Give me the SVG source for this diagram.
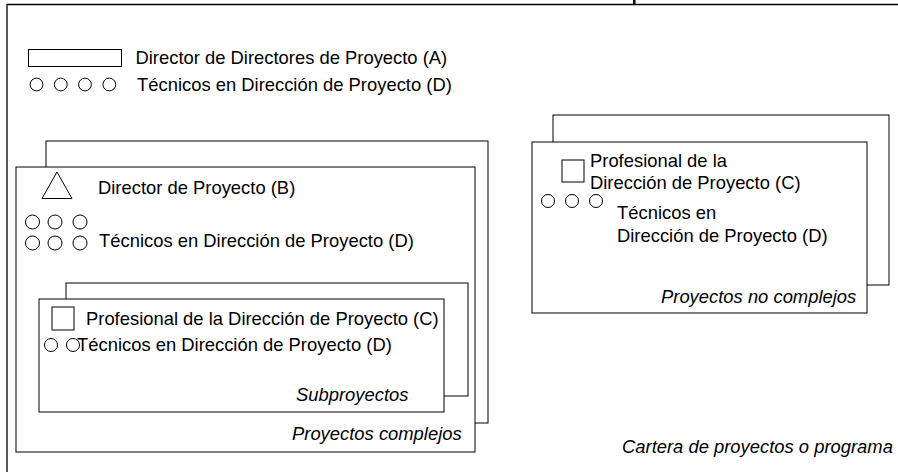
<svg xmlns="http://www.w3.org/2000/svg" width="898" height="472" viewBox="0 0 898 472">
<style>
  .box { fill: #fff; stroke: #000; stroke-width: 1; }
  .sym { fill: #fff; stroke: #000; stroke-width: 1; }
  .frame { fill: none; stroke: #000; stroke-width: 1.3; }
  text { font-family: "Liberation Sans", Arial, sans-serif; font-size: 18.4px; fill: #000; }
  .it { font-style: italic; }
</style>
<rect x="0" y="0" width="898" height="472" fill="#fff"/>
<g id="cartera">
  <polyline class="frame" points="7,472 7,4.5 898,4.5"/>
  <rect x="633" y="0" width="2.5" height="5" fill="#000"/>
  <text class="it" x="622" y="453">Cartera de proyectos o programa</text>
</g>
<g id="leyenda">
  <rect class="sym" x="28.5" y="49.5" width="93" height="17"/>
  <text x="135.5" y="64">Director de Directores de Proyecto (A)</text>
  <circle class="sym" cx="36.5" cy="84.5" r="6.4"/>
  <circle class="sym" cx="60.8" cy="84.5" r="6.4"/>
  <circle class="sym" cx="85" cy="84.5" r="6.4"/>
  <circle class="sym" cx="109.3" cy="84.5" r="6.4"/>
  <text x="137" y="91">Técnicos en Dirección de Proyecto (D)</text>
</g>
<g id="proyectos-complejos">
  <rect class="box" x="46" y="141" width="442" height="282"/>
  <rect class="box" x="16" y="167" width="459" height="285"/>
  <polygon class="sym" points="57,172 42,198.5 72,198.5"/>
  <text x="98" y="194">Director de Proyecto (B)</text>
  <circle class="sym" cx="32.5" cy="222" r="7"/>
  <circle class="sym" cx="55" cy="222" r="7"/>
  <circle class="sym" cx="80" cy="222" r="7"/>
  <circle class="sym" cx="32.5" cy="243" r="7"/>
  <circle class="sym" cx="55" cy="243" r="7"/>
  <circle class="sym" cx="80" cy="243" r="7"/>
  <text x="99" y="247">Técnicos en Dirección de Proyecto (D)</text>
  <text class="it" x="292" y="440">Proyectos complejos</text>
</g>
<g id="subproyectos">
  <rect class="box" x="66" y="283" width="402" height="113"/>
  <rect class="box" x="39" y="299" width="405" height="113"/>
  <rect class="sym" x="52" y="307" width="22" height="23"/>
  <text x="86" y="325">Profesional de la Dirección de Proyecto (C)</text>
  <circle class="sym" cx="51" cy="345" r="6.5"/>
  <circle class="sym" cx="73" cy="345" r="6.5"/>
  <text x="77" y="351">Técnicos en Dirección de Proyecto (D)</text>
  <text class="it" x="296" y="401">Subproyectos</text>
</g>
<g id="proyectos-no-complejos">
  <rect class="box" x="553" y="115" width="336" height="170"/>
  <rect class="box" x="532" y="142" width="335" height="171"/>
  <rect class="sym" x="562" y="160" width="22" height="22"/>
  <text x="590" y="167">Profesional de la</text>
  <text x="590" y="189">Dirección de Proyecto (C)</text>
  <circle class="sym" cx="548" cy="201" r="6.5"/>
  <circle class="sym" cx="572" cy="201" r="6.5"/>
  <circle class="sym" cx="596" cy="201" r="6.5"/>
  <text x="617" y="219">Técnicos en</text>
  <text x="617" y="242">Dirección de Proyecto (D)</text>
  <text class="it" x="661" y="303">Proyectos no complejos</text>
</g>
</svg>
